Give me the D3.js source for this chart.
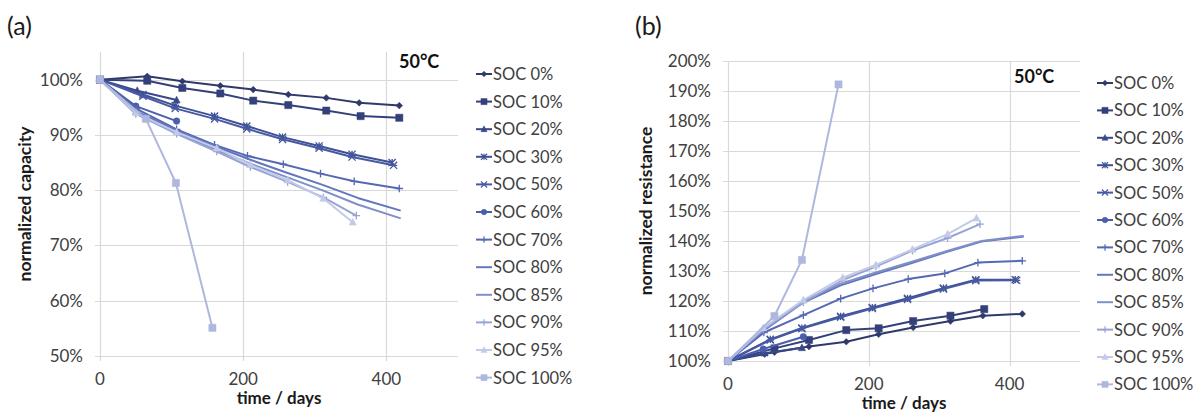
<!DOCTYPE html>
<html><head><meta charset="utf-8">
<script src="https://cdn.jsdelivr.net/npm/d3@7"></script>
<style>
html,body{margin:0;padding:0;background:#fff;}
svg{display:block;font-family:Lato,"Open Sans",sans-serif;}
</style></head>
<body>
<svg id="chart" width="1198" height="415"></svg>
<script>
// ---------- data ----------
const socLabels = ["SOC 0%","SOC 10%","SOC 20%","SOC 30%","SOC 50%","SOC 60%","SOC 70%","SOC 80%","SOC 85%","SOC 90%","SOC 95%","SOC 100%"];
const seriesColors = ["#2f3a6b","#34407a","#394889","#3f5196","#4759a3","#4a5eaa","#5568b4","#6476bc","#7f8fc9","#97a4d4","#c3cae8","#aeb8df"];
const markerTypes = ["diamond","square","triangle","xbar","asterisk","circle","plus","none","none","plus","triangle","square"];

const xTicks = [0, 200, 400];
const capTicks = [50, 60, 70, 80, 90, 100];
const resTicks = [100, 110, 120, 130, 140, 150, 160, 170, 180, 190, 200];

// (a) normalized capacity [%] vs time [days]
const capacityDays = [
  [0,66,115,168,214,263,316,362,418],
  [0,66,115,168,214,263,316,364,418],
  [0,52,107],
  [0,60,105,160,205,255,306,352,408],
  [0,60,105,160,205,255,306,352,410],
  [0,50,107],
  [0,51,107,160,206,256,308,355,418],
  [0,50,107,160,210,260,310,360,420],
  [0,50,107,160,210,260,310,360,420],
  [0,50,107,163,210,262,312,358],
  [0,50,107,163,210,262,312,353],
  [0,64,106,157]
];
const capacityValues = [
  [100,100.6,99.7,98.9,98.2,97.3,96.7,95.8,95.3],
  [100,99.8,98.5,97.5,96.2,95.4,94.4,93.4,93.1],
  [100,98.0,96.3],
  [100,97.3,95.3,93.4,91.6,89.6,88.0,86.5,85.0],
  [100,97.0,94.8,92.9,91.1,89.2,87.6,86.0,84.5],
  [100,95.2,92.5],
  [100,94.7,91.0,88.2,86.2,84.7,83.0,81.6,80.3],
  [100,94.3,90.8,88.0,85.5,83.2,81.0,78.6,76.3],
  [100,94.0,90.3,87.4,84.8,82.4,80.0,77.4,74.9],
  [100,93.8,90.2,87.0,84.2,81.5,78.7,75.4],
  [100,94.0,90.5,87.6,84.6,81.8,78.5,74.2],
  [100,92.9,81.3,55.1]
];

// (b) normalized resistance [%] vs time [days]
const resistanceDays = [
  [0,52,66,115,168,214,263,316,362,418],
  [0,66,115,168,214,263,316,364],
  [0,52,105],
  [0,60,105,160,205,255,306,352,408],
  [0,60,105,160,205,255,306,352,410],
  [0,50,107],
  [0,51,107,160,206,256,308,355,418],
  [0,50,107,160,210,260,310,360,420],
  [0,50,107,160,210,260,310,360,420],
  [0,50,107,163,210,262,312,358],
  [0,50,107,163,210,262,312,353],
  [0,66,105,157]
];
const resistanceValues = [
  [100,102.3,102.9,104.8,106.4,108.9,111.2,113.3,115.1,115.7],
  [100,104.2,107.0,110.3,110.9,113.3,115.1,117.3],
  [100,102.6,104.4],
  [100,107.2,111.0,114.9,117.8,120.9,124.3,127.1,127.1],
  [100,107.0,110.8,114.6,117.5,120.5,124.0,126.8,126.9],
  [100,104.0,108.1],
  [100,109.5,115.3,120.8,124.2,127.3,129.2,132.8,133.4],
  [100,110.0,119.5,125.2,129.0,132.6,136.3,139.8,141.5],
  [100,110.3,120.0,125.8,129.5,133.0,136.6,140.0,141.7],
  [100,110.5,119.5,127.0,131.5,136.8,141.0,145.6],
  [100,111.0,120.3,127.8,132.0,137.2,142.3,147.6],
  [100,115.0,133.7,192.2]
];

// ---------- drawing ----------
const svg = d3.select("#chart");
svg.append("rect").attr("width",1198).attr("height",415).attr("fill","#fff");
const gridColor = "#d9d9d9";
const tickColor = "#404040";

function markerPath(type, s) {
  switch (type) {
    case "diamond": return `M0,${-s}L${s},0L0,${s}L${-s},0Z`;
    case "square": return `M${-s},${-s}H${s}V${s}H${-s}Z`;
    case "triangle": return `M0,${-s*1.1}L${s},${s*0.8}L${-s},${s*0.8}Z`;
    case "circle": return d3.symbol(d3.symbolCircle, Math.PI*s*s)();
    case "xbar": return `M${-s},${-s}L${s},${s}M${-s},${s}L${s},${-s}M0,${-s}V${s}`;
    case "asterisk": return `M${-s},${-s}L${s},${s}M${-s},${s}L${s},${-s}M${-s},0H${s}`;
    case "plus": return `M${-s},0H${s}M0,${-s}V${s}`;
    default: return null;
  }
}
const filled = t => ["diamond","square","triangle","circle"].includes(t);
const markerSize = t => ({diamond:3.3, square:3.6, triangle:3.6, circle:3.3, xbar:3.6, asterisk:3.6, plus:3.8}[t] || 0);

function drawPanel(cfg) {
  const g = svg.append("g");
  const x = d3.scaleLinear().domain([0, 500]).range([cfg.left, cfg.right]);
  const y = d3.scaleLinear().domain(cfg.yDomain).range([cfg.bottom, cfg.top]);

  // horizontal gridlines
  g.selectAll(".hg").data(cfg.yTicks).join("line")
    .attr("x1", cfg.left - 5).attr("x2", cfg.right)
    .attr("y1", d => Math.round(y(d)) + 0.5).attr("y2", d => Math.round(y(d)) + 0.5)
    .attr("stroke", gridColor).attr("stroke-width", 1.2);
  // vertical gridlines
  g.selectAll(".vg").data(xTicks).join("line")
    .attr("x1", d => Math.round(x(d)) + 0.5).attr("x2", d => Math.round(x(d)) + 0.5)
    .attr("y1", cfg.top).attr("y2", cfg.bottom + 5)
    .attr("stroke", gridColor).attr("stroke-width", 1.2);

  // tick labels
  g.selectAll(".yl").data(cfg.yTicks).join("text")
    .attr("x", cfg.left - 17).attr("y", d => y(d)).attr("dy", "0.35em")
    .attr("text-anchor", "end").attr("fill", tickColor).attr("font-size", 17)
    .text(d => d + "%");
  g.selectAll(".xl").data(xTicks).join("text")
    .attr("x", d => x(d)).attr("y", cfg.bottom + 29)
    .attr("text-anchor", "middle").attr("fill", tickColor).attr("font-size", 17)
    .text(d => d);

  // axis titles
  g.append("text").attr("x", (cfg.left + cfg.right) / 2).attr("y", cfg.bottom + 48)
    .attr("text-anchor", "middle").attr("font-weight", "bold").attr("font-size", 17).attr("fill", "#1a1a1a")
    .text("time / days");
  g.append("text")
    .attr("transform", `translate(${cfg.yTitleX},${(cfg.top + cfg.bottom) / 2}) rotate(-90)`)
    .attr("text-anchor", "middle").attr("dy", "0.35em").attr("font-weight", "bold").attr("font-size", 17.5).attr("fill", "#1a1a1a")
    .text(cfg.yTitle);

  // panel label and temperature
  g.append("text").attr("x", cfg.labelX).attr("y", 35).attr("font-size", 25).attr("fill", "#1a1a1a").text(cfg.label);
  g.append("text").attr("x", cfg.tempX).attr("y", cfg.tempY).attr("font-size", 18).attr("font-weight", "bold")
    .attr("fill", "#111").text("50°C");

  // series
  const line = d3.line().x(d => x(d[0])).y(d => y(d[1]));
  socLabels.forEach((lab, i) => {
    const pts = cfg.days[i].map((d, j) => [d, cfg.values[i][j]]);
    const col = seriesColors[i];
    g.append("path").datum(pts).attr("d", line)
      .attr("fill", "none").attr("stroke", col).attr("stroke-width", 2).attr("stroke-linejoin", "round");
    const t = markerTypes[i];
    if (t !== "none") {
      g.selectAll(null).data(pts).join("path")
        .attr("transform", d => `translate(${x(d[0])},${y(d[1])})`)
        .attr("d", markerPath(t, markerSize(t)))
        .attr("fill", filled(t) ? col : "none")
        .attr("stroke", col).attr("stroke-width", filled(t) ? 0.5 : 1.3);
    }
  });

  // legend
  const lg = g.append("g");
  socLabels.forEach((lab, i) => {
    const yy = cfg.legY + i * cfg.legStep;
    const col = seriesColors[i];
    lg.append("line").attr("x1", cfg.legX).attr("x2", cfg.legX + 16).attr("y1", yy).attr("y2", yy)
      .attr("stroke", col).attr("stroke-width", 2);
    const t = markerTypes[i];
    if (t !== "none") {
      lg.append("path").attr("transform", `translate(${cfg.legX + 8},${yy})`)
        .attr("d", markerPath(t, markerSize(t) * 0.85))
        .attr("fill", filled(t) ? col : "none").attr("stroke", col)
        .attr("stroke-width", filled(t) ? 0.5 : 1.2);
    }
    lg.append("text").attr("x", cfg.legX + 17).attr("y", yy).attr("dy", "0.36em")
      .attr("font-size", 16.5).attr("fill", tickColor).text(lab);
  });
}

drawPanel({
  left: 100, right: 458, top: 52, bottom: 356,
  yDomain: [50, 105], yTicks: capTicks,
  days: capacityDays, values: capacityValues,
  yTitle: "normalized capacity", yTitleX: 25,
  label: "(a)", labelX: 7, tempX: 399, tempY: 68,
  legX: 476, legY: 74, legStep: 27.6
});
drawPanel({
  left: 728, right: 1080, top: 61, bottom: 361,
  yDomain: [100, 200], yTicks: resTicks,
  days: resistanceDays, values: resistanceValues,
  yTitle: "normalized resistance", yTitleX: 646,
  label: "(b)", labelX: 635, tempX: 1014, tempY: 83,
  legX: 1097, legY: 83, legStep: 27.4
});
</script>
</body></html>
